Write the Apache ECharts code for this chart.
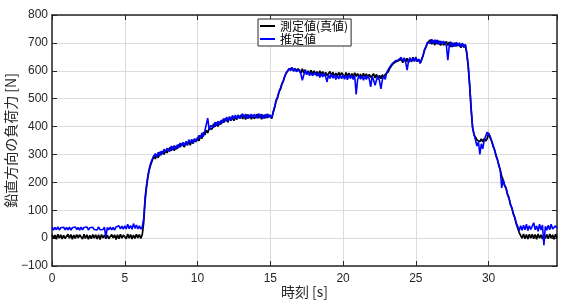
<!DOCTYPE html>
<html>
<head>
<meta charset="utf-8">
<script src="https://cdn.jsdelivr.net/npm/echarts@6/dist/echarts.min.js"></script>
<style>html,body{margin:0;padding:0;background:#fff;}#c{width:574px;height:306px;}</style>
</head>
<body>
<div id="c"></div>
<script>
// sample times: 0.0 .. 34.7 s, every 0.1 s
const sampleStart = 0;
const sampleStep = 0.1;

// 測定値(真値) [N], one row per second
const measured = [
  13,-2,11,-4,14,0,12,-3,10,-1,
  -2,14,0,13,-4,11,-1,13,1,12,
  11,-3,14,-1,12,-4,10,-2,13,0,
  12,-3,12,-5,13,1,11,-2,11,-2,
  -1,13,1,12,-5,12,-2,14,0,11,
  12,-2,15,0,13,-3,11,-1,14,1,
  13,-1,12,55,135,185,222,248,266,279,
  296,284,300,288,309,298,312,300,315,306,
  307,325,313,328,313,330,320,336,326,339,
  339,327,346,333,348,333,349,339,356,345,
  360,349,367,357,379,370,387,377,394,388,
  391,410,399,414,400,418,408,424,414,428,
  429,416,435,421,435,421,436,425,441,428,
  442,427,440,425,443,429,441,426,439,428,
  428,444,430,443,426,441,429,443,431,442,
  438,429,450,468,492,503,524,534,552,563,
  580,592,597,606,601,610,600,608,599,607,
  606,591,607,592,604,587,600,588,602,588,
  600,585,597,582,600,585,597,582,594,583,
  581,597,582,595,578,592,580,594,582,593,
  591,577,594,579,592,576,590,578,593,580,
  590,575,588,573,591,577,589,574,587,576,
  573,589,574,587,570,584,572,586,574,587,
  590,596,608,612,623,624,632,630,636,632,
  642,629,646,632,645,630,644,633,648,635,
  646,633,641,628,640,654,674,685,699,702,
  711,695,708,692,710,695,707,691,704,692,
  690,705,691,703,685,700,687,700,688,698,
  698,683,697,684,693,662,615,545,460,395,
  370,362,352,358,346,356,345,357,348,356,
  377,360,349,330,318,296,283,260,244,222,
  208,188,178,156,143,120,107,86,73,51,
  36,20,14,0,15,-2,13,-3,14,0,
  14,-2,13,-4,15,0,12,-3,14,-1,
  13,-2,15,0,12,-4,14,2
];

// 推定値 [N]
const estimated = [
  39,29,38,30,40,29,37,31,39,30,
  38,30,39,29,37,31,40,30,38,29,
  39,30,38,31,40,29,37,30,39,31,
  38,29,40,30,37,31,39,4,38,30,
  39,30,38,29,40,33,44,33,43,32,
  44,33,50,34,45,32,52,35,47,33,
  44,32,40,70,148,192,228,253,272,284,
  284,303,292,308,294,312,302,319,309,322,
  323,311,330,317,332,318,334,324,341,330,
  344,331,346,333,353,340,354,341,356,347,
  348,368,359,377,364,384,377,430,388,404,
  407,396,416,403,419,406,422,412,429,419,
  434,420,435,421,440,428,441,427,441,430,
  430,446,432,445,428,443,431,445,433,444,
  444,430,447,432,445,429,443,431,446,433,
  441,431,454,472,495,507,526,538,554,566,
  582,594,596,608,600,612,598,607,597,604,
  605,589,566,585,602,587,598,582,594,582,
  580,595,581,593,576,590,578,591,579,560,
  587,572,589,573,586,569,583,571,585,572,
  585,570,583,568,586,572,584,569,582,515,
  568,584,570,583,566,581,569,583,571,542,
  580,566,548,568,581,565,535,567,582,569,
  594,599,613,614,627,627,636,633,639,637,
  648,633,646,631,602,635,647,632,645,634,
  649,634,642,626,641,657,677,688,702,705,
  698,713,699,711,696,710,694,707,697,706,
  705,690,638,692,704,685,700,687,702,689,
  700,686,699,685,695,665,620,550,468,398,
  372,352,330,345,300,338,320,352,346,380,
  385,366,350,335,318,300,282,264,244,180,
  210,190,180,158,145,122,109,88,75,54,
  42,26,44,28,46,30,50,27,44,31,
  28,55,30,44,24,50,29,47,-25,42,
  28,46,30,50,33,30,44,35
];

const seriesNames = ['測定値(真値)', '推定値'];
const xTicks = {min: 0, max: 34.7, interval: 5};
const yTicks = {min: -100, max: 800, interval: 100};
const xName = '時刻 [s]';
const yName = '鉛直方向の負荷力 [N]';

function pairs(vals) {
  return vals.map((v, i) => [+(sampleStart + i * sampleStep).toFixed(1), v]);
}

const axisCol = '#262626';
const labelFont = 'Liberation Sans';
const cjkFont = '"Noto Sans CJK JP"';

const chart = echarts.init(document.getElementById('c'), null, {renderer: 'canvas'});
chart.setOption({
  animation: false,
  backgroundColor: '#fff',
  grid: {left: 52, right: 17, top: 15, bottom: 40, containLabel: false, outerBoundsMode: 'none'},
  legend: {
    show: true,
    orient: 'vertical',
    left: 258, top: 19,
    padding: [1, 3, 1, 2],
    itemGap: 1,
    itemWidth: 15, itemHeight: 2,
    icon: 'rect',
    backgroundColor: '#fff',
    borderColor: axisCol, borderWidth: 1,
    textStyle: {fontFamily: cjkFont, fontSize: 12, color: '#000'},
    data: seriesNames
  },
  xAxis: [{
    type: 'value', position: 'bottom',
    min: xTicks.min, max: xTicks.max, interval: xTicks.interval,
    name: xName, nameLocation: 'middle', nameGap: 19, nameMoveOverlap: false,
    nameTextStyle: {fontFamily: cjkFont, fontSize: 14, color: axisCol},
    axisLine: {show: true, onZero: false, lineStyle: {color: axisCol, width: 1.5}},
    axisTick: {show: true, inside: true, length: 5, lineStyle: {color: axisCol, width: 1}},
    axisLabel: {show: true, showMaxLabel: false, margin: 7, fontFamily: labelFont, fontSize: 12, color: axisCol},
    splitLine: {show: true, lineStyle: {color: '#dcdcdc', width: 1}}
  }, {
    type: 'value', position: 'top',
    min: xTicks.min, max: xTicks.max, interval: xTicks.interval,
    axisLine: {show: true, onZero: false, lineStyle: {color: axisCol, width: 1.5}},
    axisTick: {show: true, inside: true, length: 5, lineStyle: {color: axisCol, width: 1}},
    axisLabel: {show: false},
    splitLine: {show: false}
  }],
  yAxis: [{
    type: 'value', position: 'left',
    min: yTicks.min, max: yTicks.max, interval: yTicks.interval,
    name: yName, nameLocation: 'middle', nameGap: 34, nameRotate: 90, nameMoveOverlap: false,
    nameTextStyle: {fontFamily: cjkFont, fontSize: 14, color: axisCol},
    axisLine: {show: true, onZero: false, lineStyle: {color: axisCol, width: 1.5}},
    axisTick: {show: true, inside: true, length: 5, lineStyle: {color: axisCol, width: 1}},
    axisLabel: {show: true, margin: 4, fontFamily: labelFont, fontSize: 12, color: axisCol,
      formatter: v => (v < 0 ? '\u2212' + Math.abs(v) : String(v))},
    splitLine: {show: true, lineStyle: {color: '#dcdcdc', width: 1}}
  }, {
    type: 'value', position: 'right',
    min: yTicks.min, max: yTicks.max, interval: yTicks.interval,
    axisLine: {show: true, onZero: false, lineStyle: {color: axisCol, width: 1.5}},
    axisTick: {show: true, inside: true, length: 5, lineStyle: {color: axisCol, width: 1}},
    axisLabel: {show: false},
    splitLine: {show: false}
  }],
  series: [{
    name: seriesNames[0], type: 'line', xAxisIndex: 0, yAxisIndex: 0,
    data: pairs(measured), showSymbol: false, symbol: 'none',
    lineStyle: {color: '#000000', width: 1.7}, itemStyle: {color: '#000000'},
    z: 2
  }, {
    name: seriesNames[1], type: 'line', xAxisIndex: 0, yAxisIndex: 0,
    data: pairs(estimated), showSymbol: false, symbol: 'none',
    lineStyle: {color: '#0000ff', width: 1.6}, itemStyle: {color: '#0000ff'},
    z: 3
  }]
});
</script>
</body>
</html>
